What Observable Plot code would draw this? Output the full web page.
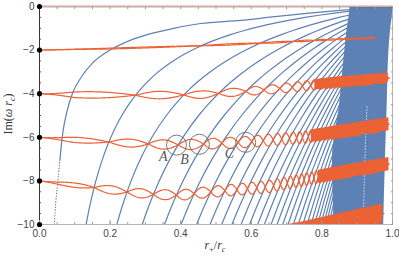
<!DOCTYPE html>
<html><head><meta charset="utf-8">
<script src="https://cdn.jsdelivr.net/npm/d3@7"></script>
<script src="https://cdn.jsdelivr.net/npm/@observablehq/plot@0.6"></script>
<style>body{margin:0;background:#fff}</style>
</head><body><div id="chart"></div>
<script>
// ---------------- data ----------------
const xTicks = [0, 0.2, 0.4, 0.6, 0.8, 1.0];
const yTicks = [0, -2, -4, -6, -8, -10];
const dsLevels = [0, -2, -4, -6, -8, -10];          // black dots at r+/rc = 0

// first (special) blue branch, read point by point
const mode1X = [0.042, 0.046, 0.052, 0.058, 0.066, 0.078, 0.093, 0.12, 0.15, 0.2, 0.25, 0.31, 0.38, 0.456, 0.57, 0.66, 0.75, 0.85, 0.93, 1.0];
const mode1Y = [-10, -9, -8, -7, -5.8, -4.8, -4, -3.2, -2.6, -2, -1.6, -1.27, -1.0, -0.78, -0.64, -0.48, -0.33, -0.18, -0.08, 0];
const mode1DotBelow = -7;                            // dotted below this Im value

// other blue branches: r+/rc where each one reaches Im = -10
const blueCross = [0.132, 0.219, 0.291, 0.354, 0.401, 0.445, 0.483, 0.516, 0.545, 0.571,
  0.595, 0.618, 0.637, 0.656, 0.673, 0.689, 0.704, 0.719, 0.733, 0.746, 0.758, 0.769,
  0.779, 0.788, 0.797, 0.805, 0.812, 0.819, 0.826, 0.832, 0.838, 0.843, 0.848];
// levels used to trace each branch
const traceLevels = [10, 9, 8, 7, 6, 5, 4.5, 4, 3.5, 3, 2.6, 2.2, 1.9, 1.6, 1.3, 1.1, 0.9, 0.75, 0.6, 0.5, 0.4, 0.3, 0.22, 0.15, 0.1, 0.06, 0.03, 0.01];

// solid blue region on the right (edges)
const denseY  = [-10, -7, -4.5, -2, -1, -0.3, 0];
const denseX0 = [0.835, 0.83, 0.85, 0.865, 0.872, 0.878, 0.88];
const denseX1 = [0.975, 0.98, 0.985, 0.99, 0.995, 1.0, 1.0];
// faint white dotted streak inside the solid region
const streakX = [0.917, 0.92, 0.924, 0.928];
const streakY = [-10, -8, -6, -4.5];

// red (de Sitter) bands: centre line and half-separation of the two braided branches
const band2X = [0, 0.2, 0.456, 0.65, 0.82, 0.95];
const band2Y = [-2, -1.93, -1.8, -1.66, -1.52, -1.44];
const band2A = [0, 0.02, 0.03, 0.03, 0.03, 0.03];

const band4X = [0, 0.1, 0.28, 0.456, 0.646, 0.833, 0.99];
const band4Y = [-4, -4.05, -4.07, -4.05, -3.82, -3.5, -3.28];
const band4A = [0, 0.14, 0.17, 0.17, 0.2, 0.25, 0.22];

const band6X = [0, 0.1, 0.2, 0.3, 0.39, 0.45, 0.58, 0.75, 0.85, 0.99];
const band6Y = [-6, -6.12, -6.22, -6.3, -6.35, -6.32, -6.22, -6.0, -5.75, -5.4];
const band6A = [0, 0.12, 0.16, 0.2, 0.22, 0.24, 0.26, 0.28, 0.3, 0.3];

const band8X = [0, 0.153, 0.244, 0.32, 0.4, 0.456, 0.646, 0.833, 0.99];
const band8Y = [-8, -8.3, -8.5, -8.62, -8.65, -8.55, -8.27, -7.68, -7.23];
const band8A = [0, 0.17, 0.2, 0.22, 0.24, 0.25, 0.28, 0.3, 0.3];

const band10X = [0.5, 0.74, 0.85, 0.975];
const band10Y = [-11, -10.35, -9.95, -9.5];
const band10A = [0.45, 0.45, 0.45, 0.45];

const bandSolidFrom = [0.99, 0.78, 0.77, 0.79, 0.5];   // where each braid merges into a solid band

// circled crossings
const markNames = ["A", "B", "C"];
const markX = [0.388, 0.453, 0.584];
const markY = [-6.36, -6.32, -6.23];
const labelX = [0.351, 0.411, 0.538];
const labelY = [-6.88, -7.02, -6.74];

// ---------------- helpers ----------------
const BLUE = "#5e81b5", RED = "#eb6235";
function interp(xs, ys, x) {
  if (x <= xs[0]) return ys[0];
  for (let i = 1; i < xs.length; i++) if (x <= xs[i]) {
    const t = (x - xs[i-1]) / (xs[i] - xs[i-1]); return ys[i-1] + t * (ys[i] - ys[i-1]);
  }
  return ys[ys.length - 1];
}
const ratio = x => x / (1 - x);

// blue branches
const blueLines = [];
blueCross.forEach((x0, k) => {
  const u0 = ratio(x0);
  traceLevels.forEach(L => {
    const u = 10 * u0 / L;
    blueLines.push({k, x: u / (1 + u), y: -L});
  });
  blueLines.push({k, x: 1, y: 0});
});
function blueAt(x0, x) { const u0 = ratio(x0); return -10 * u0 / ratio(x); }

const mode1 = mode1X.map((x, i) => ({x, y: mode1Y[i]}));
const mode1Solid = mode1.filter(d => d.y >= mode1DotBelow - 0.001);
const mode1Dots = mode1.filter(d => d.y <= mode1DotBelow + 0.001);

const dense = denseY.map((y, i) => ({y, x1: denseX0[i], x2: denseX1[i]}));
const streak = streakX.map((x, i) => ({x, y: streakY[i]}));

// red braids
const bands = [
  [band2X, band2Y, band2A], [band4X, band4Y, band4A], [band6X, band6Y, band6A],
  [band8X, band8Y, band8A], [band10X, band10Y, band10A]
];
const redLines = [], redFill = [];
bands.forEach(([bx, by, ba], b) => {
  const xStart = bx[0], xEnd = bx[bx.length - 1];
  const c = x => interp(bx, by, x), a = x => interp(bx, ba, x);
  const nodes = [xStart];
  blueCross.forEach(x0 => {
    let lo = Math.max(x0, xStart) + 1e-6, hi = xEnd;
    const f = x => blueAt(x0, x) - c(x);
    if (f(lo) > 0 || f(hi) < 0) return;
    for (let i = 0; i < 50; i++) { const m = (lo + hi) / 2; if (f(m) < 0) lo = m; else hi = m; }
    nodes.push((lo + hi) / 2);
  });
  nodes.sort((p, q) => p - q);
  nodes.push(xEnd);
  for (let s = 0; s < nodes.length - 1; s++) {
    const n0 = nodes[s], n1 = nodes[s + 1], sign = s % 2 ? -1 : 1;
    const steps = Math.max(6, Math.ceil((n1 - n0) / 0.002));
    for (let j = 0; j <= steps; j++) {
      const x = n0 + (n1 - n0) * j / steps;
      const off = a(x) * Math.sin(Math.PI * j / steps) * sign;
      redLines.push({b, w: 0, x, y: c(x) + off});
      redLines.push({b, w: 1, x, y: c(x) - off});
    }
  }
  const xs0 = bandSolidFrom[b];
  for (let x = xs0; x <= xEnd + 1e-9; x += 0.004) redFill.push({b, x, y1: c(x) - a(x), y2: c(x) + a(x)});
});

const marks = markNames.map((n, i) => ({n, x: markX[i], y: markY[i], lx: labelX[i], ly: labelY[i]}));
const xMinor = d3.range(0, 1.0001, 0.05);
const yMinor = d3.range(-10, 0.0001, 0.5);

// ---------------- plot ----------------
const plot = Plot.plot({
  width: 399, height: 258,
  marginLeft: 39, marginRight: 7, marginTop: 6, marginBottom: 34,
  x: {domain: [0, 1]}, y: {domain: [-10, 0]},
  style: {fontFamily: "Liberation Sans, Arial, sans-serif", fontSize: "10px", color: "#444", background: "#fff"},
  marks: [
    Plot.line(blueLines, {x: "x", y: "y", z: "k", stroke: BLUE, strokeWidth: 1.2, curve: "monotone-y", clip: true}),
    Plot.areaX(dense, {y: "y", x1: "x1", x2: "x2", fill: BLUE, clip: true, curve: "monotone-y"}),
    Plot.line(streak, {x: "x", y: "y", stroke: "#fff", strokeOpacity: 0.6, strokeWidth: 1, strokeDasharray: "1 2", clip: true}),
    Plot.line(mode1Solid, {x: "x", y: "y", stroke: BLUE, strokeWidth: 1.2, curve: "monotone-x", clip: true}),
    Plot.line(mode1Dots, {x: "x", y: "y", stroke: BLUE, strokeWidth: 1.1, strokeDasharray: "0.6 2.2", strokeLinecap: "round", curve: "monotone-x", clip: true}),
    Plot.line(redLines, {x: "x", y: "y", z: d => d.b * 2 + d.w, stroke: RED, strokeWidth: 1.2, clip: true}),
    Plot.areaY(redFill, {x: "x", y1: "y1", y2: "y2", z: "b", fill: RED, clip: true}),
    Plot.ruleY([0], {x1: 0, x2: 1, stroke: "#c8402c", strokeWidth: 1.6}),
    Plot.frame({stroke: "#b5b5b5"}),
    Plot.ruleX([0], {stroke: "#333", strokeWidth: 1}),
    Plot.axisX({anchor: "bottom", ticks: xTicks, tickSize: 0, tickPadding: 5, tickFormat: d3.format(".1f"), label: null}),
    Plot.axisX({anchor: "bottom", ticks: xMinor, tickSize: -2, tickFormat: () => "", label: null, stroke: "#999"}),
    Plot.axisX({anchor: "bottom", ticks: xTicks, tickSize: -4, tickFormat: () => "", label: null, stroke: "#999"}),
    Plot.axisX({anchor: "top", ticks: xMinor, tickSize: -2, tickFormat: () => "", label: null, stroke: "#999"}),
    Plot.axisY({anchor: "left", ticks: yTicks, tickSize: 0, tickPadding: 5, tickFormat: d3.format("d"), label: null}),
    Plot.axisY({anchor: "left", ticks: yMinor, tickSize: -2, tickFormat: () => "", label: null, stroke: "#555"}),
    Plot.axisY({anchor: "right", ticks: yMinor, tickSize: -2, tickFormat: () => "", label: null, stroke: "#999"}),
    Plot.dot(dsLevels, {x: () => 0, y: d => d, r: 2.6, fill: "#000", clip: false}),
    Plot.dot(marks, {x: "x", y: "y", r: 10, stroke: "#6a6a6a", strokeWidth: 0.9, fill: "none"}),
    Plot.text(marks, {x: "lx", y: "ly", text: "n", fontFamily: "Liberation Serif, serif", fontStyle: "italic", fontSize: 14, fill: "#555"})
  ]
});
document.getElementById("chart").appendChild(plot);

// axis titles
const svg = d3.select(plot);
const yt = svg.append("text").attr("transform", "translate(12,114) rotate(-90)")
  .attr("text-anchor", "middle").attr("font-family", "Liberation Serif, serif").attr("font-size", 12).attr("fill", "#333");
yt.append("tspan").text("Im(");
yt.append("tspan").attr("font-style", "italic").text("ω r");
yt.append("tspan").attr("font-style", "italic").attr("font-size", 8).attr("dy", 3).text("c");
yt.append("tspan").attr("dy", -3).text(")");
const xt = svg.append("text").attr("x", 215).attr("y", 249)
  .attr("text-anchor", "middle").attr("font-family", "Liberation Serif, serif").attr("font-size", 12).attr("fill", "#333");
xt.append("tspan").attr("font-style", "italic").text("r");
xt.append("tspan").attr("font-size", 8).attr("dy", 3).text("+");
xt.append("tspan").attr("dy", -3).text("/");
xt.append("tspan").attr("font-style", "italic").text("r");
xt.append("tspan").attr("font-style", "italic").attr("font-size", 8).attr("dy", 3).text("c");
</script></body></html>
